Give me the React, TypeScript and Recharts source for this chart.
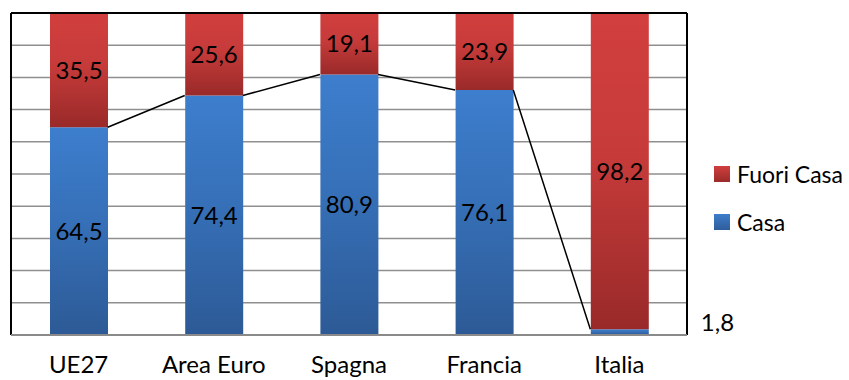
import React from 'react';
import {
  ComposedChart,
  Bar,
  Line,
  XAxis,
  YAxis,
  CartesianGrid,
  ReferenceLine,
  LabelList,
  Legend,
} from 'recharts';

const categories = ['UE27', 'Area Euro', 'Spagna', 'Francia', 'Italia'];
const casa = [64.5, 74.4, 80.9, 76.1, 1.8];
const fuoriCasa = [35.5, 25.6, 19.1, 23.9, 98.2];
const yTicks = [0, 10, 20, 30, 40, 50, 60, 70, 80, 90, 100];

const data = categories.map((name, i) => ({ name, casa: casa[i], fuori: fuoriCasa[i] }));

// Excel-style "series lines": from the right edge of one bar top to the left edge of the next
const BAR_FRAC = 0.43;
const seriesLine: { x: number; y: number | null }[] = [];
for (let i = 0; i < categories.length - 1; i++) {
  seriesLine.push({ x: i + 0.5 + BAR_FRAC / 2, y: casa[i] });
  seriesLine.push({ x: i + 1.5 - BAR_FRAC / 2, y: casa[i + 1] });
  seriesLine.push({ x: i + 1.5, y: null });
}

const FONT = 'Lato, "Open Sans", sans-serif';
const FS = 24;
const fmt = (v: number) => String(v).replace('.', ',');

const CategoryTick = (props: any) => {
  const { x, y, payload } = props;
  return (
    <text x={x} y={y + 38} textAnchor="middle" fontFamily={FONT} fontSize={FS} fill="#000">
      {payload.value}
    </text>
  );
};

const CenterLabel = (props: any) => {
  const { x, y, width, height, value } = props;
  if (value == null) return null;
  if (value < 5) {
    return (
      <text x={x + width + 52} y={y + height / 2 - 1} textAnchor="start" fontFamily={FONT} fontSize={FS} fill="#000">
        {fmt(value)}
      </text>
    );
  }
  return (
    <text x={x + width / 2} y={y + height / 2 + 8.5} textAnchor="middle" fontFamily={FONT} fontSize={FS} fill="#000">
      {fmt(value)}
    </text>
  );
};

const LegendContent = (props: any) => {
  const items = (props.payload || []).filter((p: any) => p.type !== 'none').slice().reverse();
  return (
    <div style={{ fontFamily: FONT, fontSize: 23, color: '#000' }}>
      {items.map((p: any, i: number) => (
        <div key={i} style={{ display: 'flex', alignItems: 'center', height: 48 }}>
          <div
            style={{
              width: 16,
              height: 16,
              marginRight: 7,
              background: p.dataKey === 'casa' ? 'linear-gradient(#3d7dcc,#2f5d9b)' : 'linear-gradient(#d03f3e,#9b2b2a)',
            }}
          />
          <span>{p.value}</span>
        </div>
      ))}
    </div>
  );
};

export default function App() {
  return (
    <div style={{ position: 'absolute', left: 0, top: 0, background: '#fff' }}>
      <ComposedChart
        width={849}
        height={380}
        data={data}
        margin={{ top: 13, left: 11, right: 162, bottom: 0 }}
      >
        <defs>
          <linearGradient id="gRed" x1="0" y1="0" x2="0" y2="1">
            <stop offset="0%" stopColor="#d13f3e" />
            <stop offset="45%" stopColor="#c63b3a" />
            <stop offset="100%" stopColor="#992a29" />
          </linearGradient>
          <linearGradient id="gBlue" x1="0" y1="0" x2="0" y2="1">
            <stop offset="0%" stopColor="#3d7ecd" />
            <stop offset="45%" stopColor="#3670b8" />
            <stop offset="100%" stopColor="#2d5a96" />
          </linearGradient>
        </defs>
        <CartesianGrid xAxisId="cat" vertical={false} stroke="#8f8f8f" strokeWidth={1.5} />
        <XAxis
          xAxisId="cat"
          dataKey="name"
          type="category"
          height={45}
          tickLine={false}
          tickSize={0}
          tickMargin={0}
          tick={<CategoryTick />}
          axisLine={{ stroke: '#8a8a8a', strokeWidth: 2 }}
          interval={0}
        />
        <XAxis xAxisId="num" dataKey="x" type="number" domain={[0, 5]} allowDataOverflow hide />
        <YAxis domain={[0, 100]} ticks={yTicks} hide />
        <Bar xAxisId="cat" dataKey="casa" name="Casa" stackId="s" fill="url(#gBlue)" barSize={58} isAnimationActive={false}>
          <LabelList dataKey="casa" content={<CenterLabel />} />
        </Bar>
        <Bar xAxisId="cat" dataKey="fuori" name="Fuori Casa" stackId="s" fill="url(#gRed)" barSize={58} isAnimationActive={false}>
          <LabelList dataKey="fuori" content={<CenterLabel />} />
        </Bar>
        <Line
          xAxisId="num"
          data={seriesLine}
          dataKey="y"
          stroke="#000"
          strokeWidth={1.5}
          dot={false}
          activeDot={false}
          connectNulls={false}
          legendType="none"
          isAnimationActive={false}
        />
        <ReferenceLine xAxisId="num" y={100} stroke="#000" strokeWidth={2} />
        <ReferenceLine xAxisId="num" x={0} stroke="#000" strokeWidth={2} />
        <ReferenceLine xAxisId="num" x={5} stroke="#000" strokeWidth={2} />
        <Legend
          layout="horizontal"
          verticalAlign="middle"
          align="center"
          content={<LegendContent />}
          wrapperStyle={{ left: 714, top: 150, width: 135, height: 100 }}
        />
      </ComposedChart>
    </div>
  );
}
